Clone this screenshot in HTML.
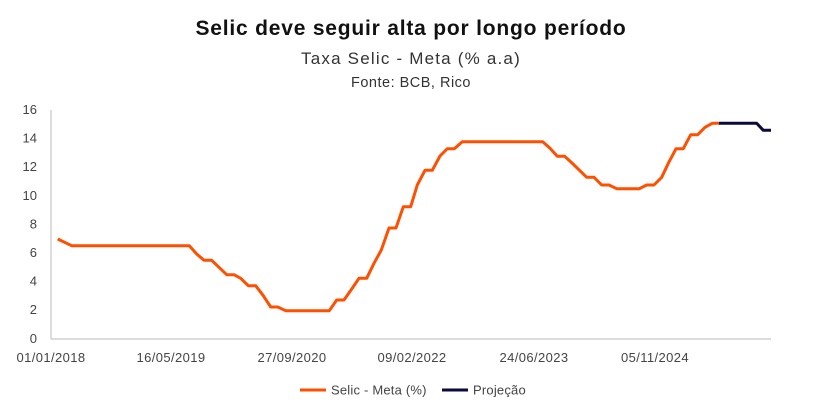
<!DOCTYPE html>
<html><head><meta charset="utf-8"><style>
body{margin:0;background:#fff;}
svg{display:block;font-family:"Liberation Sans",sans-serif;}
</style></head><body>
<svg width="822" height="412" viewBox="0 0 822 412">
<text x="411" y="35" text-anchor="middle" font-size="21" font-weight="bold" fill="#111" letter-spacing="0.8">Selic deve seguir alta por longo período</text>
<text x="411" y="64" text-anchor="middle" font-size="17" fill="#333" letter-spacing="1.2">Taxa Selic - Meta (% a.a)</text>
<text x="411" y="87" text-anchor="middle" font-size="14.5" fill="#333" letter-spacing="0.5">Fonte: BCB, Rico</text>
<g font-size="13" fill="#444" text-anchor="end">
<text x="37" y="114">16</text><text x="37" y="142.6">14</text><text x="37" y="171.2">12</text><text x="37" y="199.8">10</text>
<text x="37" y="228.4">8</text><text x="37" y="257">6</text><text x="37" y="285.6">4</text><text x="37" y="314.2">2</text><text x="37" y="343">0</text>
</g>
<line x1="51" y1="110" x2="51" y2="339" stroke="#bbb" stroke-width="1"/>
<line x1="51" y1="339" x2="771" y2="339" stroke="#bbb" stroke-width="1"/>
<g font-size="13" fill="#444" text-anchor="middle" letter-spacing="0.4">
<text x="51" y="362">01/01/2018</text><text x="171" y="362">16/05/2019</text><text x="292" y="362">27/09/2020</text>
<text x="412" y="362">09/02/2022</text><text x="534" y="362">24/06/2023</text><text x="655" y="362">05/11/2024</text>
</g>
<polyline fill="none" stroke="#ff4f00" stroke-width="3" stroke-linejoin="round" points="57.7,239 71.7,245.7 189.3,245.7 196.7,254 204,260.3 211.7,260.3 226.7,274.7 234,274.7 240.7,278.3 248.3,285.7 255.7,285.7 263.3,295.7 270.7,307 277.7,307 285.7,310.7 329.3,310.7 336.7,300 344,300 351.7,289 359,278.3 366.7,278.3 374,263.3 381.3,250 389,228 396,228 403.3,206.7 410.7,206.7 417.3,185 425,170.3 432.3,170.3 440,156 447.3,148.7 454.3,148.7 462.3,141.7 542.7,141.7 550,148.3 557.3,156.3 564.7,156.3 572,163 586.7,177.3 594,177.3 601.7,185 609,185 616.7,188.7 639.3,188.7 646.7,185 654,185 661.7,177.3 668.3,163.3 676,148.7 683.3,148.7 690.7,134.7 697.7,134.7 705,127.3 712.3,123.3 719,123.3"/>
<polyline fill="none" stroke="#0a0a3c" stroke-width="3" stroke-linejoin="round" points="719,123.3 756.7,123.3 763.3,130.3 771,130.3"/>
<line x1="300" y1="390" x2="326" y2="390" stroke="#ff4f00" stroke-width="3"/>
<text x="331" y="394.5" font-size="13" fill="#444" letter-spacing="0.2">Selic - Meta (%)</text>
<line x1="442" y1="390" x2="468" y2="390" stroke="#0a0a3c" stroke-width="3"/>
<text x="473" y="394.5" font-size="13" fill="#444" letter-spacing="0.2">Projeção</text>
</svg>
</body></html>
